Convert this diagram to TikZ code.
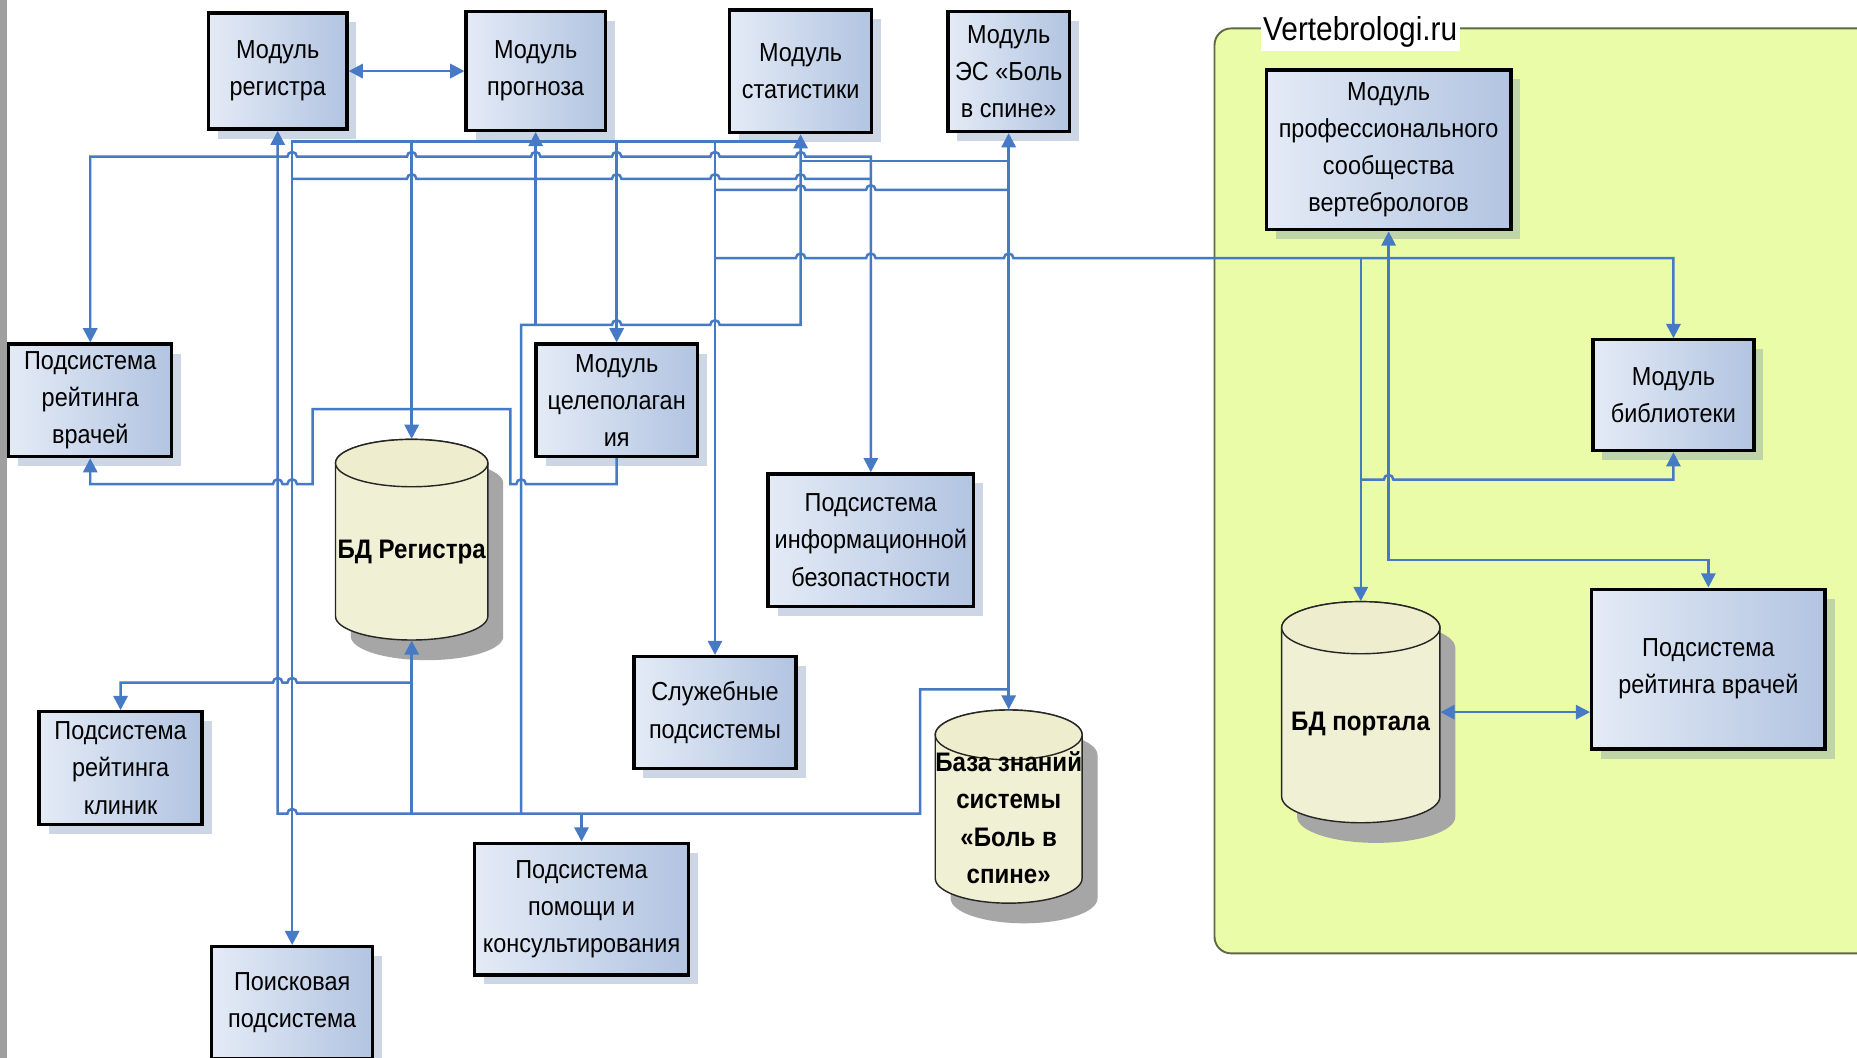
\documentclass[tikz,border=0pt]{standalone}
\usepackage{fontspec}
\setmainfont{Liberation Sans}[FakeStretch=0.9]
\usetikzlibrary{arrows.meta,shadows}
\definecolor{lineblue}{RGB}{70,122,196}
\definecolor{boxL}{RGB}{228,235,246}
\definecolor{boxR}{RGB}{178,196,225}
\definecolor{shadowblue}{RGB}{90,120,170}
\definecolor{cylbody}{RGB}{240,240,212}
\definecolor{cyltop}{RGB}{238,238,206}
\definecolor{cylshadowc}{RGB}{166,166,166}
\definecolor{contfill}{RGB}{235,252,169}
\definecolor{contborder}{RGB}{95,105,70}
\newcommand\boxfont{\fontsize{11}{15.7}\selectfont}
\newcommand\cylfont{\fontsize{11.3}{15.8}\selectfont\bfseries}
\newcommand\labfont{\fontsize{14}{16}\selectfont}
\newcommand\drawcyl[5]{%
  \fill[cylshadowc] (#1-#4+13,#2+#5+17) -- (#1-#4+13,#3-#5+17) arc[start angle=180,end angle=0,x radius=#4,y radius=#5] -- (#1+#4+13,#2+#5+17) arc[start angle=0,end angle=-180,x radius=#4,y radius=#5] -- cycle;
  \filldraw[fill=cylbody, draw=black!85, line width=0.6pt] (#1-#4,#2+#5) -- (#1-#4,#3-#5) arc[start angle=180,end angle=0,x radius=#4,y radius=#5] -- (#1+#4,#2+#5) arc[start angle=0,end angle=-180,x radius=#4,y radius=#5] -- cycle;
  \filldraw[fill=cyltop, draw=black!85, line width=0.6pt] (#1,#2+#5) ellipse[x radius=#4,y radius=#5];
}
\tikzset{
  box/.style={draw=black, line width=1.4pt, left color=boxL, right color=boxR, align=center, inner sep=0pt, font=\boxfont, text=black,
    drop shadow={shadow xshift=4pt, shadow yshift=-4pt, fill=shadowblue, opacity=0.3, draw=none}},
  cylnode/.style={draw=none, inner sep=0pt},
  cyltext/.style={align=center, font=\cylfont, inner sep=0pt},
  con/.style={draw=lineblue, line width=1.05pt},
  arr/.style={con, -{Triangle[length=6pt,width=6pt]}},
  rarr/.style={con, {Triangle[length=6pt,width=6pt]}-},
  darr/.style={con, {Triangle[length=6pt,width=6pt]}-{Triangle[length=6pt,width=6pt]}},
  hp/.style 2 args={insert path={-- (#1-4,#2) arc[start angle=180,end angle=360,radius=4]}},
}
\begin{document}
\begin{tikzpicture}[x=0.5pt,y=-0.5pt]
\useasboundingbox (0,0) rectangle (1568,893);
\fill[white] (0,0) rectangle (1568,893);
\fill[gray!75] (0,0) rectangle (6,893);

% container
\draw[draw=contborder, fill=contfill, line width=0.8pt, rounded corners=7pt] (1025.5,24) rectangle (1640,805);
\node[fill=white, inner xsep=1pt, inner ysep=1.5pt, font=\labfont] (vlab) at (1148.5,27.3) {Vertebrologi.ru};

% boxes
\node[box, minimum width=58.5pt, minimum height=49pt] (reg) at (234.5,60) {Модуль\\регистра};
\node[box, minimum width=58.75pt, minimum height=50pt] (prog) at (452.3,60) {Модуль\\прогноза};
\node[box, minimum width=60pt, minimum height=51.75pt] (stat) at (676,60.2) {Модуль\\статистики};
\node[box, minimum width=51.25pt, minimum height=50.5pt] (es) at (851.7,60.5) {Модуль\\ЭС «Боль\\в спине»};
\node[box, minimum width=68.85pt, minimum height=47.5pt] (rvl) at (76.2,338) {Подсистема\\рейтинга\\врачей};
\node[box, minimum width=68pt, minimum height=47.5pt] (cel) at (520.7,338) {Модуль\\целеполаган\\ия};
\node[box, minimum width=86.75pt, minimum height=55.85pt] (info) at (735.3,456) {Подсистема\\информационной\\безопастности};
\node[box, minimum width=68.5pt, minimum height=47.15pt] (sluzh) at (603.7,601.6) {Служебные\\подсистемы};
\node[box, minimum width=68.8pt, minimum height=47.5pt] (klin) at (101.8,648.5) {Подсистема\\рейтинга\\клиник};
\node[box, minimum width=90.5pt, minimum height=55.65pt] (pom) at (491,767.6) {Подсистема\\помощи и\\консультирования};
\node[box, minimum width=67.85pt, minimum height=47.3pt] (poisk) at (246.7,846.7) {Поисковая\\подсистема};
\node[box, minimum width=103.35pt, minimum height=67.5pt] (prof) at (1172.5,126.5) {Модуль\\профессионального\\сообщества\\вертебрологов};
\node[box, minimum width=68pt, minimum height=46.75pt] (bib) at (1413,333.7) {Модуль\\библиотеки};
\node[box, minimum width=98.5pt, minimum height=67.5pt] (rvr) at (1442.5,565) {Подсистема\\рейтинга врачей};

% cylinders
\drawcyl{347.6}{371}{540.4}{64.3}{20}
\node[cylnode, minimum width=64.3pt, minimum height=84.7pt] (bdr) at (347.6,455.7) {};
\node[cyltext] (bdrt) at (347.6,466) {БД Регистра};
\drawcyl{851.7}{599.5}{762.6}{62}{21}
\node[cylnode, minimum width=62pt, minimum height=81.55pt] (kb) at (851.7,681.05) {};
\node[cyltext] (kbt) at (851.7,690.5) {База знаний\\системы\\«Боль в\\спине»};
\drawcyl{1149}{508}{694.7}{66.8}{22}
\node[cylnode, minimum width=66.8pt, minimum height=93.35pt] (bdp) at (1149,601.35) {};
\node[cyltext] (bdpt) at (1148.8,611) {БД портала};

% level coordinates
\coordinate (L119) at (0,119.6);
\coordinate (L132) at (0,132.3);
\coordinate (L136) at (0,136);
\coordinate (L151) at (0,151.1);
\coordinate (L160) at (0,160.4);
\coordinate (L218) at (0,218);
\coordinate (L274) at (0,274.4);
\coordinate (L345) at (0,345.5);
\coordinate (L405) at (0,405);
\coordinate (L408) at (0,408.7);
\coordinate (L473) at (0,473);
\coordinate (L576) at (0,576.4);
\coordinate (L582) at (0,582);
\coordinate (L601) at (0,601.3);
\coordinate (L687) at (0,687);
\coordinate (X264) at (264,0);
\coordinate (X431) at (431,0);
\coordinate (X440) at (440,0);
\coordinate (X777) at (777,0);

% connectors
\draw[darr] (reg.east) -- (prog.west);
\draw[darr] (bdp.east |- L601) -- (rvr.west |- L601);

\draw[rarr] (reg.south) -- (reg.south |- L687) [hp={246.7}{687}] -- (X777 |- L687) -- (X777 |- L582) -- (kb.north |- L582);
\draw[arr] (bdr.south |- L687) -- (bdr.south);
\draw[rarr] (klin.north) -- (klin.north |- L576) [hp={234.5}{576.4}] [hp={246.7}{576.4}] -- (bdr.south |- L576);
\draw[arr] (X440 |- L687) -- (X440 |- L274) [hp={520.7}{274.4}] [hp={603.7}{274.4}] -- (stat.south |- L274) -- (stat.south);
\draw[arr] (prog.south |- L274) -- (prog.south);
\draw[arr] (pom.north |- L687) -- (pom.north);
\draw[darr] (es.south) -- (kb.north);

\draw[arr] (stat.south |- L119) -- (poisk.north |- L119) -- (poisk.north);
\draw[arr] (bdr.north |- L119) -- (bdr.north);
\draw[arr] (cel.north |- L119) -- (cel.north);
\draw[arr] (sluzh.north |- L119) -- (sluzh.north);

\draw[darr] (rvl.north) -- (rvl.north |- L132) [hp={246.7}{132.3}] [hp={347.6}{132.3}] [hp={452.3}{132.3}] [hp={520.7}{132.3}] [hp={603.7}{132.3}] [hp={676}{132.3}] -- (info.north |- L132) -- (info.north);
\draw[con] (stat.south |- L136) -- (es.south |- L136);
\draw[con] (poisk.north |- L151) [hp={347.6}{151.1}] [hp={520.7}{151.1}] [hp={603.7}{151.1}] [hp={676}{151.1}] -- (info.north |- L151);
\draw[con] (sluzh.north |- L160) [hp={676}{160.4}] [hp={735.3}{160.4}] -- (es.south |- L160);
\draw[arr] (sluzh.north |- L218) [hp={676}{218}] [hp={735.3}{218}] [hp={851.7}{218}] -- (bib.north |- L218) -- (bib.north);
\draw[arr] (bdp.north |- L218) -- (bdp.north);
\draw[arr] (bdp.north |- L405) [hp={1172.5}{405}] -- (bib.south |- L405) -- (bib.south);
\draw[darr] (prof.south) -- (prof.south |- L473) -- (rvr.north |- L473) -- (rvr.north);
\draw[rarr] (rvl.south) -- (rvl.south |- L408) [hp={234.5}{408.7}] [hp={246.7}{408.7}] -- (X264 |- L408) -- (X264 |- L345) -- (X431 |- L345) -- (X431 |- L408) [hp={440}{408.7}] -- (cel.south |- L408) -- (cel.south);
\end{tikzpicture}
\end{document}
